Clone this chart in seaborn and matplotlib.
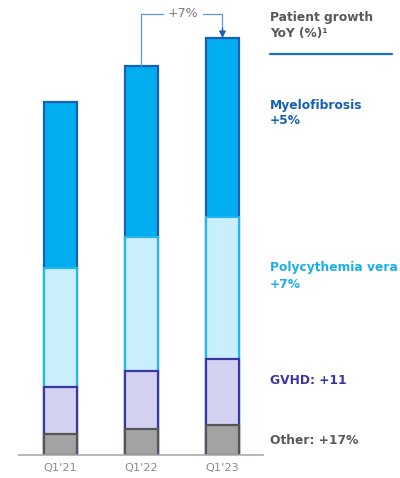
import numpy as np
import pandas as pd
import matplotlib
matplotlib.use("Agg")
import matplotlib.pyplot as plt
import seaborn as sns

# Patients by indication (relative units), Q1 each year
quarters = ["Q1'21", "Q1'22", "Q1'23"]
other = [21, 26, 30]
gvhd = [47, 58, 66]
polycythemia = [119, 134, 142]
myelofibrosis = [166, 171, 179]

labels_right = ["Myelofibrosis\n+5%", "Polycythemia vera\n+7%", "GVHD: +11", "Other: +17%"]
total_growth = "+7%"

sns.set_theme(style="white")
plt.rcParams["font.family"] = ["DejaVu Sans"]

fig = plt.figure(figsize=(4.0, 4.78), dpi=100)
ax = fig.add_axes([0.0475, 0.0481, 0.61, 0.931])

layers = [
    ("Myelofibrosis", [o + g + p + m for o, g, p, m in zip(other, gvhd, polycythemia, myelofibrosis)], "#00AEEF", "#1A5FB4"),
    ("Polycythemia vera", [o + g + p for o, g, p in zip(other, gvhd, polycythemia)], "#C9EEFC", "#22B5F0"),
    ("GVHD", [o + g for o, g in zip(other, gvhd)], "#D2D2F0", "#3C36A0"),
    ("Other", list(other), "#A3A3A3", "#555555"),
]

for name, vals, face, edge in layers:
    df = pd.DataFrame({"quarter": quarters, "value": vals})
    sns.barplot(data=df, x="quarter", y="value", ax=ax, color=face, width=0.407,
                edgecolor=edge, linewidth=1.6, saturation=1)

ax.set_xlim(-0.512, 2.5)
ax.set_ylim(0, 445)
ax.set_xlabel("")
ax.set_ylabel("")
ax.set_yticks([])
for s in ["top", "right", "left"]:
    ax.spines[s].set_visible(False)
ax.spines["bottom"].set_color("#AAAAAA")
ax.spines["bottom"].set_linewidth(1.2)
ax.tick_params(axis="x", length=0, pad=6, labelsize=8.2, labelcolor="#8C8C8C")

# Growth bracket between Q1'22 and Q1'23 totals
totals = layers[0][1]
y_br = 441
line_c = "#5B9BD5"
ax.plot([1, 1], [totals[1], y_br], color=line_c, lw=0.9, clip_on=False)
ax.plot([1, 1.27], [y_br, y_br], color=line_c, lw=0.9, clip_on=False)
ax.plot([1.76, 2], [y_br, y_br], color=line_c, lw=0.9, clip_on=False)
ax.plot([2, 2], [y_br, totals[2] + 6], color=line_c, lw=0.9, clip_on=False)
ax.annotate("", xy=(2, totals[2]), xytext=(2, totals[2] + 10),
            arrowprops=dict(arrowstyle="-|>", color="#1A5FB4", lw=0.9,
                            mutation_scale=10, shrinkA=0, shrinkB=0),
            annotation_clip=False)
ax.text(1.51, y_br, total_growth, ha="center", va="center", fontsize=9, color="#7A7A7A")

# Right-hand legend text
fig.text(0.675, 1 - 26 / 478, "Patient growth\nYoY (%)\u00b9", fontsize=8.8, fontweight="bold",
         color="#595959", va="center", ha="left", linespacing=1.3)
fig.add_artist(plt.Line2D([0.675, 0.98], [1 - 54 / 478, 1 - 54 / 478], color="#1A6FC4", lw=1.6))
label_colors = ["#1560B0", "#1AAEEA", "#3C36A0", "#595959"]
label_y = [113, 276, 381, 440]
for txt, c, y in zip(labels_right, label_colors, label_y):
    fig.text(0.675, 1 - y / 478, txt, fontsize=8.8, fontweight="bold", color=c,
             va="center", ha="left", linespacing=1.3)

fig.savefig("out.png", dpi=100)
